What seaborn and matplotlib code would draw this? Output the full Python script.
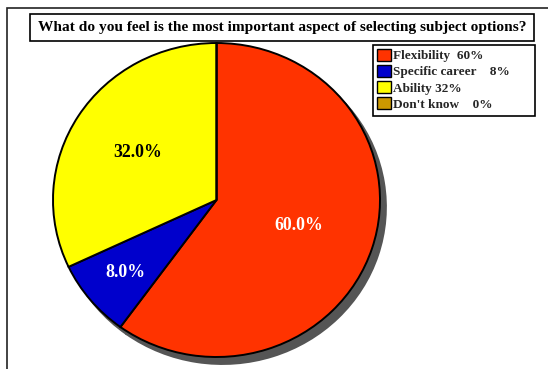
import matplotlib
matplotlib.use("Agg")
import matplotlib.pyplot as plt
import matplotlib.patches as mpatches
import numpy as np
import seaborn as sns

sns.set_style("white")
plt.rcParams['font.family'] = ['Liberation Serif', 'DejaVu Serif']

# ---- data ----
categories = ["Flexibility", "Specific career", "Ability", "Don't know"]
values = [60, 8, 32, 0]
legend_labels = ["Flexibility  60%", "Specific career    8%", "Ability 32%", "Don't know    0%"]
colors = ["#FF3300", "#0000CC", "#FFFF00", "#CC9900"]
pct_colors = ["white", "white", "black", "black"]
title = "What do you feel is the most important aspect of selecting subject options?"

W, H = 548, 369
fig = plt.figure(figsize=(W / 100, H / 100), dpi=100)

# outer frame
fig.add_artist(mpatches.Rectangle((7 / W, -0.1), 1.2, 1.1 - 8 / H,
                                  transform=fig.transFigure, fill=False,
                                  edgecolor="#222222", linewidth=1.2))
# title box
fig.add_artist(mpatches.Rectangle((30 / W, 1 - 41 / H), (534 - 30) / W, 27 / H,
                                  transform=fig.transFigure, fill=False,
                                  edgecolor="black", linewidth=1.2))
fig.text((30 + 534) / 2 / W, 1 - 28 / H, title, ha="center", va="center",
         fontsize=11.1, fontweight="bold", color="black")

# legend box
fig.add_artist(mpatches.Rectangle((373 / W, 1 - 116 / H), (535 - 373) / W, 71 / H,
                                  transform=fig.transFigure, fill=False,
                                  edgecolor="black", linewidth=1.2))

# pie axes: center (216.5, 200), rx 163.5, ry 157
cx, cy, rx, ry = 216.5, 200, 163.5, 157
ax = fig.add_axes([(cx - rx) / W, 1 - (cy + ry) / H, 2 * rx / W, 2 * ry / H])

wedges, texts, autotexts = ax.pie(
    values, colors=colors, startangle=90, counterclock=False,
    autopct=lambda p: f"{p:.1f}%" if p > 0 else "",
    wedgeprops=dict(edgecolor="black", linewidth=1.4),
    shadow=dict(ox=0.026, oy=-0.032, facecolor="#555555", edgecolor="#555555",
                alpha=1, clip_on=False),
    textprops=dict(fontsize=12.8, fontweight="bold"),
)
ax.set_aspect("auto")
ax.set_xlim(-1, 1)
ax.set_ylim(-1, 1)
ax.axis("off")
for w in wedges:
    w.set_clip_on(False)

label_r = [0.53, 0.72, 0.57, 0.6]
for w, t, c, r in zip(wedges, autotexts, pct_colors, label_r):
    ang = np.deg2rad((w.theta1 + w.theta2) / 2)
    t.set_position((r * np.cos(ang), r * np.sin(ang)))
    t.set_color(c)

leg = ax.legend(wedges, legend_labels, loc="upper left",
                bbox_to_anchor=(377 / W, 1 - 49 / H), bbox_transform=fig.transFigure,
                prop=dict(family="Liberation Serif", weight="bold", size=9.5),
                frameon=False, handlelength=1.05, handleheight=1.0,
                handletextpad=0.15, labelspacing=0.2, borderpad=0.0, borderaxespad=0)
for h in leg.legend_handles:
    h.set_edgecolor("black")
    h.set_linewidth(1.0)

fig.savefig("out.png", dpi=100)
